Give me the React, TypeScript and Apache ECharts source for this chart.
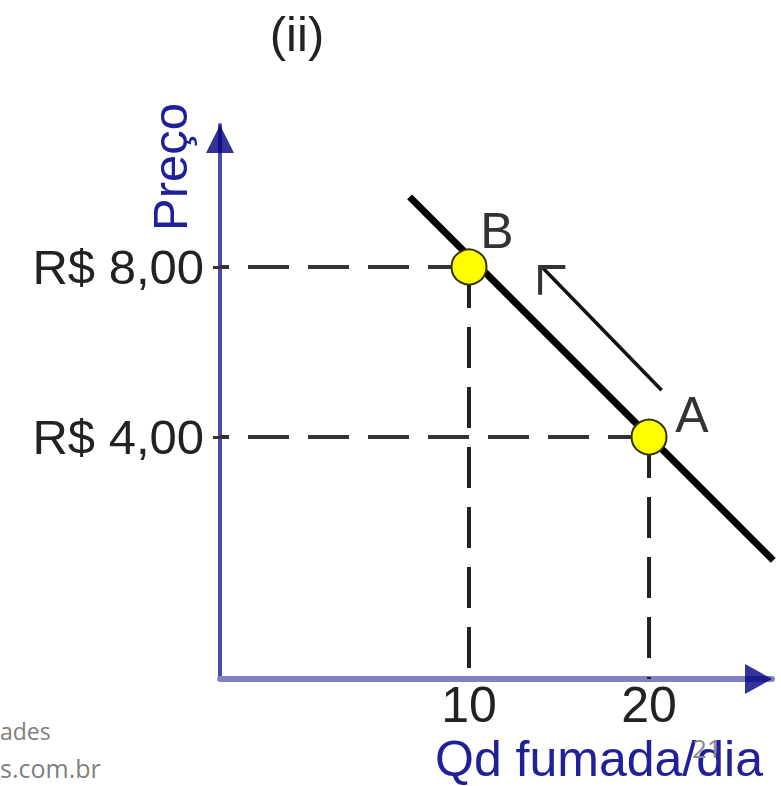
import React, { useEffect, useRef } from "react";
import * as echarts from "echarts";

// ---- data ----
const pointNames = ["B", "A"];
const quantities = [10, 20];
const prices = [8, 4];
const labelOffsets = [
  [28, -36],
  [43, -22],
];

const demandX = [6.7, 26.9];
const demandY = [9.65, 1.1];

const shiftX = [20.7, 14.05];
const shiftY = [5.1, 8.0];
const headX = [15.35, 13.95, 13.95];
const headY = [8.0, 8.0, 7.35];

const xTicks = [10, 20];
const yTicks = [4, 8];
const yTickLabels = ["R$ 4,00", "R$ 8,00"];

const X_MIN = -3.83;
const X_MAX = 26.83;
const Y_MIN = -1.69;
const Y_MAX = 11.34;

const FONT = "'Liberation Sans', Arial, sans-serif";

export default function App() {
  const ref = useRef<HTMLDivElement>(null);

  useEffect(() => {
    if (!ref.current) return;
    const chart = echarts.init(ref.current, null, { renderer: "svg" });

    const guideSeries: any[] = [];
    quantities.forEach((q, i) => {
      const p = prices[i];
      guideSeries.push({
        type: "line",
        data: [
          [q, p],
          [X_MIN, p],
        ],
        symbol: "none",
        silent: true,
        lineStyle: { color: "#333", width: 4, type: [41, 19] },
        z: 2,
      });
      guideSeries.push({
        type: "line",
        data: [
          [q, p],
          [q, Y_MIN],
        ],
        symbol: "none",
        silent: true,
        lineStyle: { color: "#222", width: 4, type: [41, 19] },
        z: 2,
      });
    });

    const option: any = {
      animation: false,
      backgroundColor: "#ffffff",
      grid: { left: 220, right: 9, top: 125, bottom: 107 },
      xAxis: {
        type: "value",
        min: X_MIN,
        max: X_MAX,
        splitLine: { show: false },
        axisLine: { show: true, onZero: false, lineStyle: { color: "#8282c2", width: 6 } },
        axisTick: { show: false },
        axisLabel: {
          customValues: xTicks,
          fontSize: 50,
          fontFamily: FONT,
          color: "#222",
          margin: 1,
          formatter: (v: number) => String(v),
        },
      },
      yAxis: {
        type: "value",
        min: Y_MIN,
        max: Y_MAX,
        splitLine: { show: false },
        axisLine: { show: true, onZero: false, lineStyle: { color: "#4a4aac", width: 4 } },
        axisTick: {
          show: true,
          customValues: yTicks,
          length: 7,
          lineStyle: { color: "#333", width: 3 },
        },
        axisLabel: {
          customValues: yTicks,
          fontSize: 49,
          fontFamily: FONT,
          color: "#222",
          margin: 16,
          formatter: (v: number) => yTickLabels[yTicks.indexOf(v)] ?? "",
        },
      },
      graphic: [
        {
          type: "text",
          x: 297,
          y: 34,
          style: {
            text: "(ii)",
            fontSize: 49,
            fontFamily: FONT,
            fill: "#222",
            align: "center",
            verticalAlign: "middle",
          },
        },
        {
          type: "text",
          x: 170,
          y: 167,
          rotation: Math.PI / 2,
          style: {
            text: "Preço",
            fontSize: 49,
            fontFamily: FONT,
            fill: "#202098",
            align: "center",
            verticalAlign: "middle",
          },
        },
        {
          type: "text",
          x: 435,
          y: 759,
          style: {
            text: "Qd fumada/dia",
            fontSize: 50,
            fontFamily: FONT,
            fill: "#202098",
            align: "left",
            verticalAlign: "middle",
          },
        },
        {
          type: "text",
          x: 0,
          y: 731,
          style: {
            text: "ades",
            fontSize: 23,
            fontFamily: "'Open Sans', sans-serif",
            fill: "#808080",
            align: "left",
            verticalAlign: "middle",
          },
        },
        {
          type: "text",
          x: 0,
          y: 768,
          style: {
            text: "s.com.br",
            fontSize: 25,
            fontFamily: "'Open Sans', sans-serif",
            fill: "#808080",
            align: "left",
            verticalAlign: "middle",
          },
        },
        {
          type: "text",
          x: 692,
          y: 748,
          z: 100,
          style: {
            text: "21",
            fontSize: 26,
            fontFamily: "'Open Sans', sans-serif",
            fill: "#888888",
            align: "left",
            verticalAlign: "middle",
          },
        },
      ],
      series: [
        ...guideSeries,
        {
          type: "line",
          data: demandX.map((x, i) => [x, demandY[i]]),
          symbol: "none",
          clip: false,
          silent: true,
          lineStyle: { color: "#000", width: 7 },
          z: 3,
        },
        {
          type: "line",
          data: shiftX.map((x, i) => [x, shiftY[i]]),
          symbol: "none",
          silent: true,
          lineStyle: { color: "#111", width: 3.5 },
          z: 3,
        },
        {
          type: "line",
          data: headX.map((x, i) => [x, headY[i]]),
          symbol: "none",
          silent: true,
          lineStyle: { color: "#333", width: 4, join: "miter" },
          z: 3,
        },
        {
          type: "scatter",
          data: quantities.map((q, i) => ({
            value: [q, prices[i]],
            label: { offset: labelOffsets[i] },
            name: pointNames[i],
          })),
          symbolSize: 35,
          itemStyle: { color: "#ffff00", borderColor: "#333300", borderWidth: 2, opacity: 1 },
          label: {
            show: true,
            position: "inside",
            formatter: (p: any) => p.name,
            fontSize: 50,
            fontFamily: FONT,
            color: "#333",
          },
          z: 5,
          silent: true,
        },
        {
          type: "scatter",
          data: [
            { value: [X_MIN, Y_MAX], symbolRotate: 0, symbolSize: [28, 28], symbolOffset: [0, 14] },
            { value: [X_MAX, Y_MIN], symbolRotate: -90, symbolSize: [30, 27], symbolOffset: [-13.5, 0] },
          ],
          symbol: "triangle",
          clip: false,
          itemStyle: { color: "#000080" },
          z: 6,
          silent: true,
        },
      ],
    };

    chart.setOption(option);
    return () => chart.dispose();
  }, []);

  return (
    <div
      ref={ref}
      style={{ position: "fixed", left: 0, top: 0, width: 781, height: 786, background: "#fff" }}
    />
  );
}
